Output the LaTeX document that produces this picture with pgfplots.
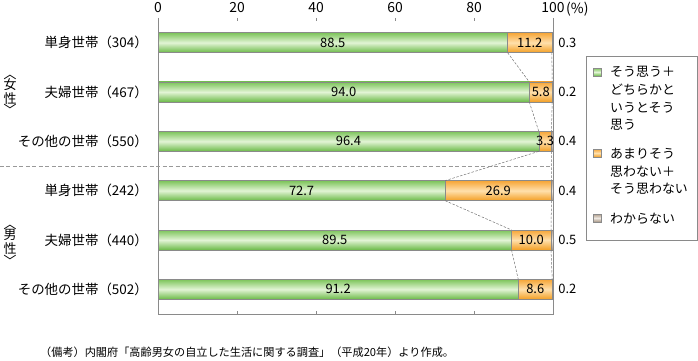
\documentclass[border=0pt]{standalone}
\usepackage{fontspec}
\setmainfont{Noto Sans CJK JP}
\usepackage{pgfplots}
\pgfplotsset{compat=1.18}
\definecolor{gT}{HTML}{7CC45A}
\definecolor{gM}{HTML}{E2F4D5}
\definecolor{gB}{HTML}{6AB946}
\definecolor{oT}{HTML}{F6A536}
\definecolor{oM}{HTML}{FFE0AC}
\definecolor{oB}{HTML}{F39E22}
\definecolor{kT}{HTML}{B09E8C}
\definecolor{kM}{HTML}{EEE8E1}
\definecolor{kB}{HTML}{A69482}
\definecolor{frm}{HTML}{8A8A8A}
\newcommand{\myfont}[1]{\fontsize{#1}{#1}\selectfont}
\tikzset{
  vl/.style={font=\myfont{13}, inner sep=0pt},
  gl/.style={font=\myfont{13}, inner sep=0pt, anchor=west},
  lg/.style={anchor=base west, inner sep=0pt, font=\myfont{13}},
  gshade/.style={top color=gT, bottom color=gB, middle color=gM},
  oshade/.style={top color=oT, bottom color=oB, middle color=oM},
  kshade/.style={top color=kT, bottom color=kB, middle color=kM},
}
\pgfplotsset{bb/.style={xbar, bar width=20bp, bar shift=0pt, draw=frm, line width=0.4bp}}
\begin{document}
\begin{tikzpicture}[x=1bp,y=1bp]
\path[use as bounding box] (0,0) rectangle (698,360);
\begin{axis}[
  at={(158bp,46bp)}, anchor=south west,
  scale only axis, width=395bp, height=296bp,
  xmin=0, xmax=100, ymin=-0.5, ymax=5.5,
  axis line style={draw=none},
  clip=false,
  xtick={0,20,40,60,80,100},
  xticklabels={0,20,40,60,80,100},
  xticklabel pos=right, xtick align=inside,
  major tick length=3bp,
  tick style={frm, line width=0.5bp},
  xticklabel style={anchor=base, inner sep=0pt, yshift=5bp, font=\myfont{14}},
  ytick={0,1,2,3,4,5},
  yticklabels={その他の世帯（502）,夫婦世帯（440）,単身世帯（242）,その他の世帯（550）,夫婦世帯（467）,単身世帯（304）},
  ytick style={draw=none},
  yticklabel style={anchor=east, inner sep=0pt, xshift=-10bp, font=\myfont{13.5}},
]
% each bar: わからない (to 100), then あまり... (cumulative), then そう思う on top
% row 5: 単身 女性  88.5 / 11.2 / 0.3
\addplot[bb, kshade] coordinates {(100,5)};
\addplot[bb, oshade] coordinates {(99.7,5)};
\addplot[bb, gshade] coordinates {(88.5,5)};
% row 4: 夫婦 女性  94.0 / 5.8 / 0.2
\addplot[bb, kshade] coordinates {(100,4)};
\addplot[bb, oshade] coordinates {(99.8,4)};
\addplot[bb, gshade] coordinates {(94.0,4)};
% row 3: その他 女性  96.4 / 3.3 / 0.4 (rounded)
\addplot[bb, kshade] coordinates {(100,3)};
\addplot[bb, oshade] coordinates {(99.6,3)};
\addplot[bb, gshade] coordinates {(96.4,3)};
% row 2: 単身 男性  72.7 / 26.9 / 0.4
\addplot[bb, kshade] coordinates {(100,2)};
\addplot[bb, oshade] coordinates {(99.6,2)};
\addplot[bb, gshade] coordinates {(72.7,2)};
% row 1: 夫婦 男性  89.5 / 10.0 / 0.5
\addplot[bb, kshade] coordinates {(100,1)};
\addplot[bb, oshade] coordinates {(99.5,1)};
\addplot[bb, gshade] coordinates {(89.5,1)};
% row 0: その他 男性  91.2 / 8.6 / 0.2
\addplot[bb, kshade] coordinates {(100,0)};
\addplot[bb, oshade] coordinates {(99.8,0)};
\addplot[bb, gshade] coordinates {(91.2,0)};
\draw[frm, line width=0.6bp] (rel axis cs:0,1) -- (rel axis cs:0,0) -- (rel axis cs:1,0) -- (rel axis cs:1,1);
\draw[gray!80, line width=0.6bp, dash pattern=on 4bp off 2.5bp] (axis cs:-40,2.5) -- (axis cs:100,2.5);
\draw[black!55, line width=0.5bp, dash pattern=on 2.5bp off 1.5bp]
  (axis cs:88.5,4.797) -- (axis cs:94.0,4.203)
  (axis cs:94.0,3.797) -- (axis cs:96.4,3.203)
  (axis cs:96.4,2.797) -- (axis cs:72.7,2.203)
  (axis cs:72.7,1.797) -- (axis cs:89.5,1.203)
  (axis cs:89.5,0.797) -- (axis cs:91.2,0.203)
  (axis cs:99.7,4.797) -- (axis cs:99.8,4.203)
  (axis cs:99.8,3.797) -- (axis cs:99.6,3.203)
  (axis cs:99.6,2.797) -- (axis cs:99.6,2.203)
  (axis cs:99.6,1.797) -- (axis cs:99.5,1.203)
  (axis cs:99.5,0.797) -- (axis cs:99.8,0.203);
\coordinate (a5) at (axis cs:44.25,5);
\coordinate (a4) at (axis cs:47.0,4);
\coordinate (a3) at (axis cs:48.2,3);
\coordinate (a2) at (axis cs:36.35,2);
\coordinate (a1) at (axis cs:44.75,1);
\coordinate (a0) at (axis cs:45.6,0);
\coordinate (b5) at (axis cs:94.1,5);
\coordinate (b4) at (axis cs:96.9,4);
\coordinate (b3) at (axis cs:98.0,3);
\coordinate (b2) at (axis cs:86.15,2);
\coordinate (b1) at (axis cs:94.5,1);
\coordinate (b0) at (axis cs:95.5,0);
\node[gl] at (axis cs:101.3,5) {0.3};
\node[gl] at (axis cs:101.3,4) {0.2};
\node[gl] at (axis cs:101.3,3) {0.4};
\node[gl] at (axis cs:101.3,2) {0.4};
\node[gl] at (axis cs:101.3,1) {0.5};
\node[gl] at (axis cs:101.3,0) {0.2};
\end{axis}
\node[vl] at (a5) {88.5};
\node[vl] at (a4) {94.0};
\node[vl] at (a3) {96.4};
\node[vl] at (a2) {72.7};
\node[vl] at (a1) {89.5};
\node[vl] at (a0) {91.2};
\node[vl] at (b5) {11.2};
\node[vl] at (b4) {5.8};
\node[vl] at (b3) {3.3};
\node[vl] at (b2) {26.9};
\node[vl] at (b1) {10.0};
\node[vl] at (b0) {8.6};
\node[anchor=base west, inner sep=0pt, font=\myfont{14}] at (566,347) {(\%)};
% group labels
\node[inner sep=0pt, font=\myfont{13}, rotate=-90] at (10,286.5) {〈};
\node[inner sep=0pt, font=\myfont{13}] at (10,275) {女};
\node[inner sep=0pt, font=\myfont{13}] at (10,261.5) {性};
\node[inner sep=0pt, font=\myfont{13}, rotate=-90] at (10,250.5) {〉};
\node[inner sep=0pt, font=\myfont{13}, rotate=-90] at (10,136.5) {〈};
\node[inner sep=0pt, font=\myfont{13}] at (10,125) {男};
\node[inner sep=0pt, font=\myfont{13}] at (10,111) {性};
\node[inner sep=0pt, font=\myfont{13}, rotate=-90] at (10,99) {〉};
% legend
\draw[frm, line width=0.6bp] (586,120) rectangle (697,304);
\draw[frm, line width=0.4bp, gshade] (593,284) rectangle (601,292);
\draw[frm, line width=0.4bp, oshade] (593,203) rectangle (601,211);
\draw[frm, line width=0.4bp, kshade] (593,138) rectangle (601,146);
\node[lg] at (610,284) {そう思う＋};
\node[lg] at (610,266) {どちらかと};
\node[lg] at (610,248) {いうとそう};
\node[lg] at (610,230.5) {思う};
\node[lg] at (610,202) {あまりそう};
\node[lg] at (610,184) {思わない＋};
\node[lg] at (610,166.5) {そう思わない};
\node[lg] at (610,137) {わからない};
\node[anchor=base west, inner sep=0pt, font=\myfont{11.2}] at (40,4) {（備考）内閣府「高齢男女の自立した生活に関する調査」（平成20年）より作成。};
\end{tikzpicture}
\end{document}
